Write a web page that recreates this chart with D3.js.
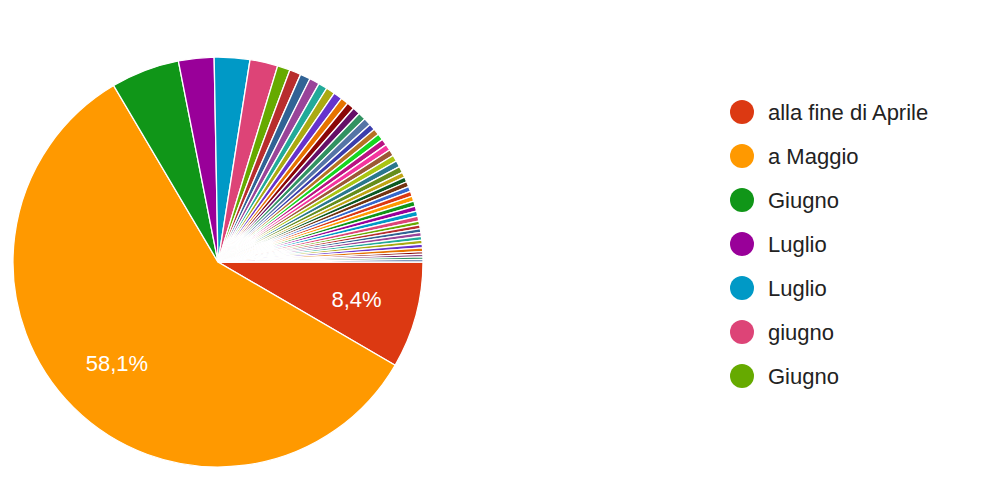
<!DOCTYPE html>
<html><head><meta charset="utf-8">
<script src="https://cdn.jsdelivr.net/npm/d3@7"></script>
<style>body{margin:0;background:#fff}</style>
</head><body>
<svg id="chart" width="1000" height="500"></svg>
<script>
var mainLabels = ["alla fine di Aprile", "a Maggio", "Giugno", "Luglio", "Luglio", "giugno", "Giugno"];
var mainValues = [8.4, 58.1, 5.4, 2.8, 2.8, 2.2, 1.0];
var tinyValues = [0.9,0.8,0.8,0.7,0.7,0.7,0.6,0.6,0.6,0.6,0.6,0.5,0.5,0.5,0.5,0.5,0.5,0.5,0.5,0.5,
	0.4,0.4,0.4,0.4,0.4,0.4,0.4,0.4,0.4,0.4,0.3,0.3,0.3,0.3,0.3,0.3,0.3,0.3,0.2,0.2,0.2,0.2];
var palette = ["#dc3912","#ff9900","#109618","#990099","#0099c6","#dd4477","#66aa00","#b82e2e",
	"#316395","#994499","#22aa99","#aaaa11","#6633cc","#e67300","#8b0707","#651067","#329262",
	"#5574a6","#3b3eac","#b77322","#16d620","#b91383","#f4359e","#9c5935","#a9c413","#2a778d",
	"#668d1c","#bea413","#0c5922","#743411","#3366cc"];

var values = mainValues.concat(tinyValues);

var svg = d3.select("#chart");
var cx = 218, cy = 262, radius = 205;

var pie = d3.pie().sort(null).value(function(d) { return d; })
	.startAngle(Math.PI / 2).endAngle(Math.PI / 2 + 2 * Math.PI);
var arcs = pie(values);
var arc = d3.arc().innerRadius(0).outerRadius(radius);
var labelArc = d3.arc().innerRadius(radius * 0.7).outerRadius(radius * 0.7);
var total = d3.sum(values);

var g = svg.append("g").attr("transform", "translate(" + cx + "," + cy + ")");
g.selectAll("path").data(arcs).enter().append("path")
	.attr("d", arc)
	.attr("fill", function(d, i) { return palette[i % palette.length]; })
	.attr("stroke", "#fff").attr("stroke-width", 1.3);

g.selectAll("text").data(arcs.filter(function(d) { return d.data / total > 0.06; }))
	.enter().append("text")
	.attr("transform", function(d) { return "translate(" + labelArc.centroid(d) + ")"; })
	.attr("text-anchor", "middle").attr("dy", "0.35em")
	.attr("fill", "#fff").style("font", "22px 'Liberation Sans', Arial, sans-serif")
	.text(function(d) { return (d.data / total * 100).toFixed(1).replace(".", ",") + "%"; });

var legend = svg.append("g");
var item = legend.selectAll("g").data(mainLabels).enter().append("g")
	.attr("transform", function(d, i) { return "translate(742," + (112 + i * 44) + ")"; });
item.append("circle").attr("r", 12).attr("fill", function(d, i) { return palette[i]; });
item.append("text").attr("x", 26).attr("dy", "0.35em")
	.attr("fill", "#222").style("font", "22px 'Liberation Sans', Arial, sans-serif")
	.text(String);
</script>
</body></html>
